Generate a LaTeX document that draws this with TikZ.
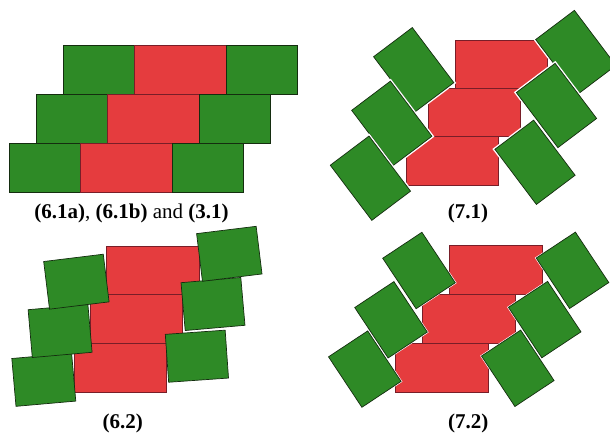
\documentclass[tikz,border=0pt]{standalone}
\usepackage{fontspec}
\setmainfont{Liberation Serif}
\definecolor{redfill}{RGB}{229,60,62}
\definecolor{redline}{RGB}{120,30,40}
\definecolor{grnfill}{RGB}{46,138,38}
\definecolor{grnline}{RGB}{20,45,15}
\begin{document}
\begin{tikzpicture}[x=1pt,y=-1pt,
  redbox/.style={draw=redline, fill=redfill, line width=0.6pt, inner sep=0pt, outer sep=0pt, minimum width=92.4pt, minimum height=48.8pt},
  grnbox/.style={draw=grnline, fill=grnfill, line width=0.7pt, inner sep=0pt, outer sep=0pt},
  grnA/.style={grnbox, minimum width=71pt, minimum height=48.8pt},
  grnB/.style={grnbox, minimum width=48.5pt, minimum height=69pt, rotate=37, preaction={draw=white, line width=3.5pt}},
  grnC/.style={grnbox, minimum width=60pt, minimum height=48pt},
  grnD/.style={grnbox, minimum width=47pt, minimum height=60.5pt, rotate=33.5, preaction={draw=white, line width=2pt}},
  caption/.style={font=\fontsize{21}{25}\selectfont, inner sep=0pt}]
\clip (0,0) rectangle (610,435);
\fill[white] (0,0) rectangle (610,435);
% ---- panel (6.1a),(6.1b),(3.1)
\node[grnA] (a1) at (98.8,69.9) {};
\node[redbox] (ar1) at (180.5,69.9) {};
\node[grnA] (a2) at (262,69.9) {};
\node[grnA] (a3) at (71.85,118.8) {};
\node[redbox] (ar2) at (153.5,118.8) {};
\node[grnA] (a4) at (234.65,118.8) {};
\node[grnA] (a5) at (44.5,167.8) {};
\node[redbox] (ar3) at (126.15,167.8) {};
\node[grnA] (a6) at (207.5,167.8) {};
\node[caption] (capa) at (131.5,213) {\textbf{(6.1a)}, \textbf{(6.1b)} and \textbf{(3.1)}};
% ---- panel (7.1)
\node[redbox, minimum width=92pt, minimum height=48.3pt] (br1) at (501,64.15) {};
\node[redbox, minimum width=92.5pt, minimum height=48.4pt] (br2) at (474.25,112.5) {};
\node[redbox, minimum width=92.3pt, minimum height=49pt] (br3) at (452.15,161.2) {};
\node[grnB] (b1) at (413.7,69.7) {};
\node[grnB] (b2) at (391.8,123.3) {};
\node[grnB] (b3) at (370.4,178.2) {};
\node[grnB] (b4) at (575.8,52.5) {};
\node[grnB] (b5) at (556.5,105.5) {};
\node[grnB] (b6) at (535,162.3) {};
\node[caption] (capb) at (468,213) {\textbf{(7.1)}};
% ---- panel (6.2)
\node[redbox, minimum width=92.6pt, minimum height=48pt] (cr1) at (153,270.6) {};
\node[redbox, minimum width=92pt, minimum height=49pt] (cr2) at (136.7,319) {};
\node[redbox, minimum width=92.7pt, minimum height=49.2pt] (cr3) at (120.35,368.1) {};
\node[grnC, rotate=5] (c3) at (43.8,379.8) {};
\node[grnC, rotate=5] (c2) at (60.1,331) {};
\node[grnC, rotate=7] (c1) at (76.4,281.7) {};
\node[grnC, rotate=4] (c6) at (196.9,356.2) {};
\node[grnC, rotate=5] (c5) at (213,304) {};
\node[grnC, rotate=7] (c4) at (229.3,253.8) {};
\node[caption] (capc) at (122.8,423) {\textbf{(6.2)}};
% ---- panel (7.2)
\node[redbox, minimum width=93.3pt, minimum height=48.5pt] (dr1) at (495.65,269.75) {};
\node[redbox, minimum width=92.5pt, minimum height=49.3pt] (dr2) at (468.75,318.65) {};
\node[redbox, minimum width=93pt, minimum height=49.2pt] (dr3) at (441.5,367.9) {};
\node[grnD] (d3) at (364.8,369.1) {};
\node[grnD] (d2) at (391,319.8) {};
\node[grnD] (d1) at (419,270.5) {};
\node[grnD] (d6) at (517.8,368.3) {};
\node[grnD] (d5) at (544.7,319.6) {};
\node[grnD] (d4) at (572.5,270.3) {};
\node[caption] (capd) at (468.3,423) {\textbf{(7.2)}};
\end{tikzpicture}
\end{document}
